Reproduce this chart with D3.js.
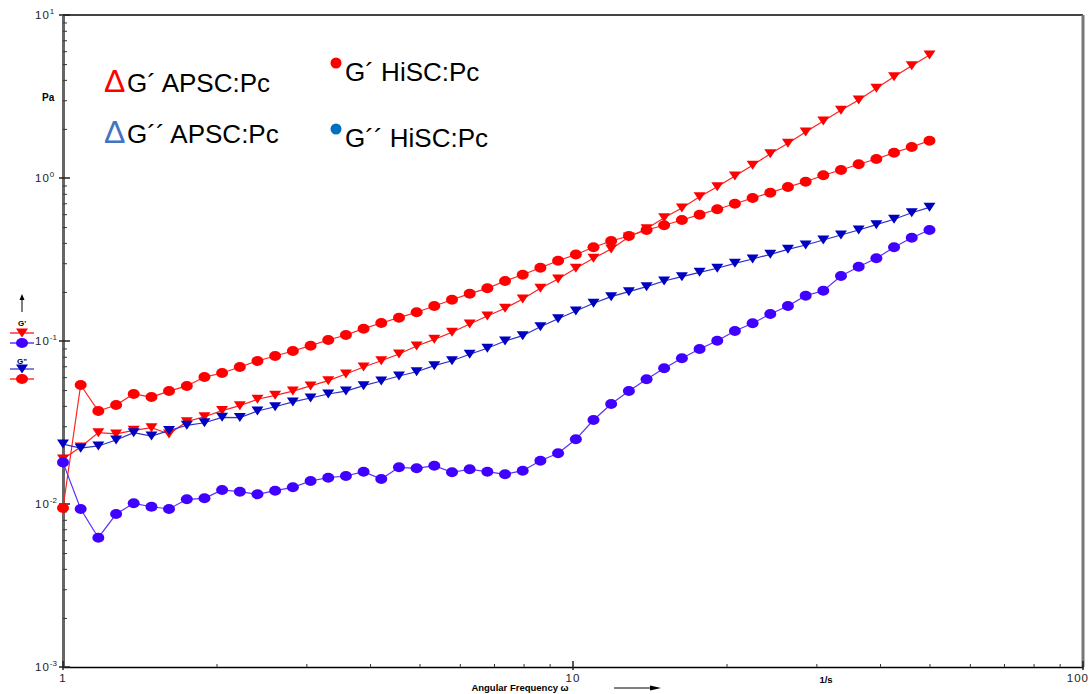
<!DOCTYPE html>
<html>
<head>
<meta charset="utf-8">
<script src="https://cdn.jsdelivr.net/npm/d3@7"></script>
<style>
  body { margin: 0; background: #fff; }
  svg { display: block; font-family: "Liberation Sans", Arial, sans-serif; }
</style>
</head>
<body>
<div class="canvas"></div>
<script>
// Angular frequency (1/s)
const freq = [1, 1.083, 1.173, 1.271, 1.376, 1.491, 1.614, 1.749, 1.894, 2.051,
  2.222, 2.406, 2.606, 2.823, 3.058, 3.312, 3.587, 3.885, 4.208, 4.558,
  4.936, 5.346, 5.791, 6.272, 6.793, 7.358, 7.969, 8.631, 9.349, 10.13,
  10.97, 11.88, 12.87, 13.94, 15.09, 16.35, 17.71, 19.18, 20.77, 22.5,
  24.37, 26.39, 28.59, 30.96, 33.53, 36.32, 39.34, 42.61, 46.15, 50];

// G' APSC:Pc (red triangles)
const gpAPSC = [0.0189, 0.0224, 0.0274, 0.0269, 0.0283, 0.0294, 0.0269, 0.032, 0.0343, 0.0374,
  0.0401, 0.0439, 0.0464, 0.0493, 0.053, 0.0571, 0.0627, 0.0693, 0.0757, 0.0832,
  0.0932, 0.1024, 0.1131, 0.1272, 0.1424, 0.1587, 0.181, 0.2105, 0.2401, 0.2793,
  0.3216, 0.3667, 0.4345, 0.4886, 0.5707, 0.6546, 0.7679, 0.8843, 1.029, 1.197,
  1.41, 1.633, 1.915, 2.237, 2.602, 3.009, 3.55, 4.183, 4.887, 5.683];

// G' HiSC:Pc (red circles)
const gpHiSC = [0.00945, 0.0537, 0.0372, 0.0405, 0.0473, 0.0453, 0.0493, 0.053, 0.0601, 0.0636,
  0.0693, 0.0754, 0.0809, 0.0868, 0.0936, 0.1014, 0.1088, 0.119, 0.129, 0.139,
  0.15, 0.164, 0.1792, 0.1951, 0.2105, 0.2334, 0.2551, 0.2817, 0.3109, 0.3394,
  0.3757, 0.4107, 0.4407, 0.4797, 0.5128, 0.5525, 0.5955, 0.6427, 0.6955, 0.754,
  0.8125, 0.8806, 0.9491, 1.039, 1.12, 1.214, 1.308, 1.43, 1.549, 1.694];

// G'' APSC:Pc (blue triangles)
const gppAPSC = [0.0233, 0.022, 0.0227, 0.0247, 0.0274, 0.0261, 0.0282, 0.0304, 0.0315, 0.034,
  0.0339, 0.0372, 0.0395, 0.0423, 0.0447, 0.0473, 0.0493, 0.0532, 0.0568, 0.061,
  0.0648, 0.0706, 0.0757, 0.0829, 0.0902, 0.1, 0.1078, 0.1224, 0.137, 0.1528,
  0.1703, 0.187, 0.2007, 0.2154, 0.2334, 0.248, 0.2639, 0.2793, 0.2997, 0.3184,
  0.3403, 0.3652, 0.3881, 0.4165, 0.447, 0.4797, 0.5171, 0.558, 0.6124, 0.661];

// G'' HiSC:Pc (blue circles)
const gppHiSC = [0.018, 0.00932, 0.00621, 0.00868, 0.0101, 0.00962, 0.00932, 0.01069, 0.01084, 0.01219,
  0.0119, 0.01147, 0.01207, 0.01266, 0.01384, 0.0145, 0.01485, 0.01578, 0.01423, 0.01679,
  0.01656, 0.01718, 0.01565, 0.01633, 0.01578, 0.01521, 0.01601, 0.01843, 0.02047, 0.02494,
  0.03275, 0.04107, 0.0493, 0.05821, 0.068, 0.07832, 0.0893, 0.1004, 0.1151, 0.1284,
  0.1464, 0.164, 0.1897, 0.2035, 0.2504, 0.2857, 0.3216, 0.3757, 0.4302, 0.4797];

const xTicks = [1, 10, 100];
const yExps = [1, 0, -1, -2, -3];

const dims = { width: 1090, height: 694 };
const plot = { left: 63, right: 1083, top: 15, bottom: 667 };

const svg = d3
  .select(".canvas")
  .append("svg")
  .attr("width", dims.width)
  .attr("height", dims.height);

const x = d3.scaleLog().domain([1, 100]).range([plot.left, plot.right]);
const y = d3.scaleLog().domain([0.001, 10]).range([plot.bottom, plot.top]);

// Minor ticks inside the frame
const minorX = [];
for (let d = 1; d < 100; d *= 10) for (let m = 2; m <= 9; m++) minorX.push(d * m);
const minorY = [];
for (let d = 0.001; d < 10; d *= 10) for (let m = 2; m <= 9; m++) minorY.push(d * m);

const axes = svg.append("g");

axes
  .append("g")
  .attr("transform", `translate(0, ${plot.bottom})`)
  .call(d3.axisBottom(x).tickValues(minorX).tickSize(-3).tickSizeOuter(0).tickFormat(""))
  .call((g) => g.select(".domain").attr("stroke", "#000").attr("stroke-width", 1.5));

axes
  .append("g")
  .attr("transform", `translate(${plot.left}, 0)`)
  .call(d3.axisLeft(y).tickValues(minorY).tickSize(-4).tickSizeOuter(0).tickFormat(""))
  .call((g) => g.select(".domain").attr("stroke", "#666").attr("stroke-width", 3));

axes.selectAll(".tick line").attr("stroke", "#333");

// top and right frame
axes.append("line")
  .attr("x1", plot.left).attr("x2", plot.right)
  .attr("y1", plot.top).attr("y2", plot.top)
  .attr("stroke", "#444").attr("stroke-width", 2);
axes.append("line")
  .attr("x1", plot.right).attr("x2", plot.right)
  .attr("y1", plot.top).attr("y2", plot.bottom)
  .attr("stroke", "#777").attr("stroke-width", 3);

// Major ticks cross the axis
axes.selectAll(".majx")
  .data(xTicks)
  .enter()
  .append("line")
  .attr("x1", (d) => x(d)).attr("x2", (d) => x(d))
  .attr("y1", plot.bottom - 6).attr("y2", plot.bottom + 3)
  .attr("stroke", "#222").attr("stroke-width", 1.5);

axes.selectAll(".majy")
  .data(yExps)
  .enter()
  .append("line")
  .attr("x1", plot.left - 4).attr("x2", plot.left + 7)
  .attr("y1", (d) => y(Math.pow(10, d))).attr("y2", (d) => y(Math.pow(10, d)))
  .attr("stroke", "#222").attr("stroke-width", 1.5);

// Tick labels
const yLab = axes.selectAll(".ylab")
  .data(yExps)
  .enter()
  .append("text")
  .attr("x", 35)
  .attr("y", (d) => y(Math.pow(10, d)) + 4)
  .attr("font-size", 11.5)
  .attr("fill", "#222");
yLab.append("tspan").attr("letter-spacing", 1).text("10");
yLab.append("tspan").attr("dy", -5).attr("font-size", 8).text((d) => String(d));

axes.selectAll(".xlab")
  .data(xTicks)
  .enter()
  .append("text")
  .attr("x", (d) => (d === 100 ? 1089 : x(d)))
  .attr("y", plot.bottom + 15)
  .attr("text-anchor", (d) => (d === 100 ? "end" : "middle"))
  .attr("font-size", 11.5)
  .attr("letter-spacing", 1)
  .attr("fill", "#222")
  .text((d) => d);

// Units and axis titles
svg.append("text").attr("x", 42).attr("y", 101)
  .attr("font-size", 10).attr("font-weight", "bold").text("Pa");
svg.append("text").attr("x", 826).attr("y", 683)
  .attr("text-anchor", "middle").attr("font-size", 9.5).attr("font-weight", "bold").text("1/s");
svg.append("text").attr("x", 520).attr("y", 691)
  .attr("text-anchor", "middle").attr("font-size", 9.5).attr("font-weight", "bold")
  .text("Angular Frequency ω");
svg.append("line").attr("x1", 614).attr("x2", 652).attr("y1", 688).attr("y2", 688)
  .attr("stroke", "#000").attr("stroke-width", 1);
svg.append("path").attr("d", "M650,685.5 L661,688 L650,690.5 Z").attr("fill", "#000");

// Series
const series = [
  { name: "gpAPSC", values: gpAPSC, shape: "tri", fill: "#ff0000", line: "#ff2020" },
  { name: "gpHiSC", values: gpHiSC, shape: "dot", fill: "#ff0000", line: "#ff2020" },
  { name: "gppAPSC", values: gppAPSC, shape: "tri", fill: "#0000c0", line: "#3030c8" },
  { name: "gppHiSC", values: gppHiSC, shape: "dot", fill: "#4000ff", line: "#5a30ff" },
];

const line = d3.line().x((d) => x(d[0])).y((d) => y(d[1]));
const triPath = "M-6,-4.5 L6,-4.5 L0,4.5 Z";

const graph = svg.append("g");

series.forEach((s) => {
  const pts = freq.map((f, i) => [f, s.values[i]]);
  const g = graph.append("g").attr("class", s.name);

  g.append("path")
    .attr("d", line(pts))
    .attr("fill", "none")
    .attr("stroke", s.line)
    .attr("stroke-width", 1.2);

  if (s.shape === "tri") {
    g.selectAll("path.mk")
      .data(pts)
      .enter()
      .append("path")
      .attr("class", "mk")
      .attr("d", triPath)
      .attr("transform", (d) => `translate(${x(d[0])}, ${y(d[1])})`)
      .attr("fill", s.fill);
  } else {
    g.selectAll("ellipse")
      .data(pts)
      .enter()
      .append("ellipse")
      .attr("cx", (d) => x(d[0]))
      .attr("cy", (d) => y(d[1]))
      .attr("rx", 6)
      .attr("ry", 5)
      .attr("fill", s.fill);
  }
});

// Instrument legend on the left
const side = svg.append("g");
side.append("line").attr("x1", 22).attr("x2", 22).attr("y1", 312).attr("y2", 299)
  .attr("stroke", "#000").attr("stroke-width", 1);
side.append("path").attr("d", "M19.5,300 L22,294 L24.5,300 Z").attr("fill", "#000");

const sideItems = [
  { label: "G'", y: 326 },
  { shape: "tri", color: "#ff0000", fill: "#ff0000", y: 333 },
  { shape: "dot", color: "#4000ff", fill: "#4000ff", y: 343 },
  { label: "G\"", y: 364 },
  { shape: "tri", color: "#3030c8", fill: "#0000c0", y: 369 },
  { shape: "dot", color: "#ff0000", fill: "#ff0000", y: 379 },
];

sideItems.forEach((d) => {
  if (d.label) {
    side.append("text").attr("x", 22).attr("y", d.y).attr("text-anchor", "middle")
      .attr("font-size", 8).attr("font-weight", "bold").text(d.label);
    return;
  }
  side.append("line").attr("x1", 10).attr("x2", 34).attr("y1", d.y).attr("y2", d.y)
    .attr("stroke", d.color).attr("stroke-width", 1.2);
  if (d.shape === "tri") {
    side.append("path").attr("d", triPath).attr("transform", `translate(22, ${d.y})`).attr("fill", d.fill);
  } else {
    side.append("ellipse").attr("cx", 22).attr("cy", d.y).attr("rx", 6).attr("ry", 5).attr("fill", d.fill);
  }
});

// Legend inside the plot
const legendGroup = svg.append("g");

const legendRows = [
  { mark: "Δ", color: "#ff0000", text: "G´ APSC:Pc", x: 104, y: 92 },
  { mark: "Δ", color: "#4472c4", text: "G´´ APSC:Pc", x: 104, y: 143 },
  { mark: "dot", color: "#ff0000", text: "G´ HiSC:Pc", x: 336, y: 81 },
  { mark: "dot", color: "#0070c0", text: "G´´ HiSC:Pc", x: 336, y: 147 },
];

legendRows.forEach((d) => {
  if (d.mark === "dot") {
    legendGroup.append("circle").attr("cx", d.x).attr("cy", d.y - 18).attr("r", 5.5).attr("fill", d.color);
    legendGroup.append("text").attr("x", d.x + 9).attr("y", d.y)
      .attr("font-size", 26).attr("fill", "#000").text(d.text);
  } else {
    legendGroup.append("text").attr("x", d.x).attr("y", d.y)
      .attr("font-size", 32).attr("fill", d.color).text(d.mark);
    legendGroup.append("text").attr("x", d.x + 23).attr("y", d.y)
      .attr("font-size", 26).attr("fill", "#000").text(d.text);
  }
});
</script>
</body>
</html>
